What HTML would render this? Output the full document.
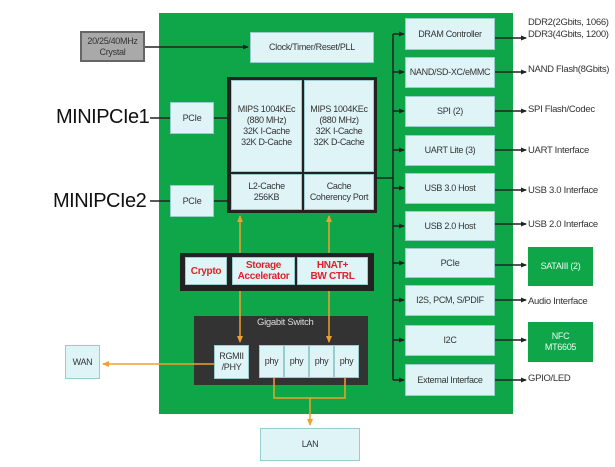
<!DOCTYPE html><html><head><style>
body{margin:0;width:615px;height:467px;background:#fff;position:relative;overflow:hidden;font-family:"Liberation Sans",sans-serif}
.b{position:absolute;box-sizing:border-box;background:#dff4f7;border:1px solid #9cc;display:flex;align-items:center;justify-content:center;text-align:center;font-size:9px;color:#333;line-height:11px;letter-spacing:-0.3px}
.t{position:absolute;font-size:9.5px;color:#333;letter-spacing:-0.3px;white-space:nowrap}
.r{color:#e0202a;font-weight:bold;font-size:10px}
</style></head><body>
<div style="position:absolute;left:159px;top:13px;width:354px;height:401px;background:#0fa64a"></div>
<div class="b" style="left:80px;top:31px;width:65px;height:31px;background:#a9a9a9;border:2px solid #666">20/25/40MHz<br>Crystal</div>
<div class="b" style="left:250px;top:32px;width:124px;height:31px">Clock/Timer/Reset/PLL</div>
<div style="position:absolute;left:227px;top:77px;width:150px;height:136px;background:#222"></div>
<div class="b" style="left:231px;top:80px;width:71px;height:92px">MIPS 1004KEc<br>(880 MHz)<br>32K I-Cache<br>32K D-Cache</div>
<div class="b" style="left:304px;top:80px;width:70px;height:92px">MIPS 1004KEc<br>(880 MHz)<br>32K I-Cache<br>32K D-Cache</div>
<div class="b" style="left:231px;top:174px;width:71px;height:36px">L2-Cache<br>256KB</div>
<div class="b" style="left:304px;top:174px;width:70px;height:36px">Cache<br>Coherency Port</div>
<div class="b" style="left:170px;top:102px;width:44px;height:32px">PCIe</div>
<div class="b" style="left:170px;top:185px;width:44px;height:32px">PCIe</div>
<div class="t" style="left:56px;top:106px;font-size:20px;color:#111;letter-spacing:-0.5px">MINIPCIe1</div>
<div class="t" style="left:53px;top:190px;font-size:20px;color:#111;letter-spacing:-0.5px">MINIPCIe2</div>
<div style="position:absolute;left:180px;top:253px;width:194px;height:38px;background:#222"></div>
<div class="b r" style="left:185px;top:257px;width:42px;height:28px">Crypto</div>
<div class="b r" style="left:232px;top:257px;width:63px;height:28px">Storage<br>Accelerator</div>
<div class="b r" style="left:297px;top:257px;width:71px;height:28px">HNAT+<br>BW CTRL</div>
<div style="position:absolute;left:194px;top:316px;width:174px;height:69px;background:#333"></div>
<div class="t" style="left:257px;top:317px;color:#ddd">Gigabit Switch</div>
<div class="b" style="left:214px;top:345px;width:35px;height:34px">RGMII<br>/PHY</div>
<div class="b" style="left:259px;top:345px;width:25px;height:33px">phy</div>
<div class="b" style="left:284px;top:345px;width:25px;height:33px">phy</div>
<div class="b" style="left:309px;top:345px;width:25px;height:33px">phy</div>
<div class="b" style="left:334px;top:345px;width:25px;height:33px">phy</div>
<div class="b" style="left:65px;top:345px;width:35px;height:34px">WAN</div>
<div class="b" style="left:260px;top:428px;width:100px;height:33px">LAN</div>
<div class="b" style="left:405px;top:18px;width:90px;height:32px">DRAM Controller</div>
<div class="b" style="left:405px;top:57px;width:90px;height:31px">NAND/SD-XC/eMMC</div>
<div class="b" style="left:405px;top:96px;width:90px;height:31px">SPI (2)</div>
<div class="b" style="left:405px;top:135px;width:90px;height:31px">UART Lite (3)</div>
<div class="b" style="left:405px;top:173px;width:90px;height:31px">USB 3.0 Host</div>
<div class="b" style="left:405px;top:211px;width:90px;height:30px">USB 2.0 Host</div>
<div class="b" style="left:405px;top:248px;width:90px;height:30px">PCIe</div>
<div class="b" style="left:405px;top:285px;width:90px;height:31px">I2S, PCM, S/PDIF</div>
<div class="b" style="left:405px;top:325px;width:90px;height:31px">I2C</div>
<div class="b" style="left:405px;top:364px;width:90px;height:32px">External Interface</div>
<div class="t" style="left:528px;top:17px;line-height:12px">DDR2(2Gbits, 1066)<br>DDR3(4Gbits, 1200)</div>
<div class="t" style="left:528px;top:64px">NAND Flash(8Gbits)</div>
<div class="t" style="left:528px;top:104px">SPI Flash/Codec</div>
<div class="t" style="left:528px;top:145px">UART Interface</div>
<div class="t" style="left:528px;top:185px">USB 3.0 Interface</div>
<div class="t" style="left:528px;top:219px">USB 2.0 Interface</div>
<div class="b" style="left:528px;top:247px;width:65px;height:39px;background:#0fa64a;color:#e8fff0;border:none">SATAIII (2)</div>
<div class="t" style="left:528px;top:296px">Audio Interface</div>
<div class="b" style="left:528px;top:322px;width:65px;height:40px;background:#0fa64a;color:#e8fff0;border:none">NFC<br>MT6605</div>
<div class="t" style="left:528px;top:373px">GPIO/LED</div>
<svg style="position:absolute;left:0;top:0" width="615" height="467">
<defs><marker id="a" markerUnits="userSpaceOnUse" markerWidth="6" markerHeight="6" refX="5" refY="3" orient="auto"><path d="M0,0.5L6,3L0,5.5z" fill="#222"/></marker>
<marker id="o" markerUnits="userSpaceOnUse" markerWidth="7" markerHeight="7" refX="6" refY="3.5" orient="auto"><path d="M0,0.5L7,3.5L0,6.5z" fill="#f0a030"/></marker></defs>
<g stroke="#222" stroke-width="1.5" fill="none">
<path d="M145 47H248" marker-end="url(#a)"/>
<path d="M150 118H170M214 118H227M150 201H170M214 201H227"/>
<path d="M377 178H393M393 34V380"/>
</g>
<g stroke="#222" stroke-width="1.5" fill="none" marker-end="url(#a)">
<path d="M393 34H404"/><path d="M393 72H404"/><path d="M393 111H404"/><path d="M393 150H404"/><path d="M393 188H404"/><path d="M393 226H404"/><path d="M393 263H404"/><path d="M393 300H404"/><path d="M393 340H404"/><path d="M393 380H404"/>
<path d="M495 38H526"/><path d="M495 72H526"/><path d="M495 111H526"/><path d="M495 150H526"/><path d="M495 190H526"/><path d="M495 224H526"/><path d="M495 265H526"/><path d="M495 300H526"/><path d="M495 340H526"/><path d="M495 380H526"/>
</g>
<g stroke="#f0a030" stroke-width="1.5" fill="none">
<path d="M240 253V216" marker-end="url(#o)"/><path d="M329 253V216" marker-end="url(#o)"/>
<path d="M240 291V342" marker-end="url(#o)"/><path d="M329 291V342" marker-end="url(#o)"/>
<path d="M214 364H103" marker-end="url(#o)"/>
<path d="M274 378V398H345V378"/><path d="M310 398V425" marker-end="url(#o)"/>
</g></svg>
</body></html>
